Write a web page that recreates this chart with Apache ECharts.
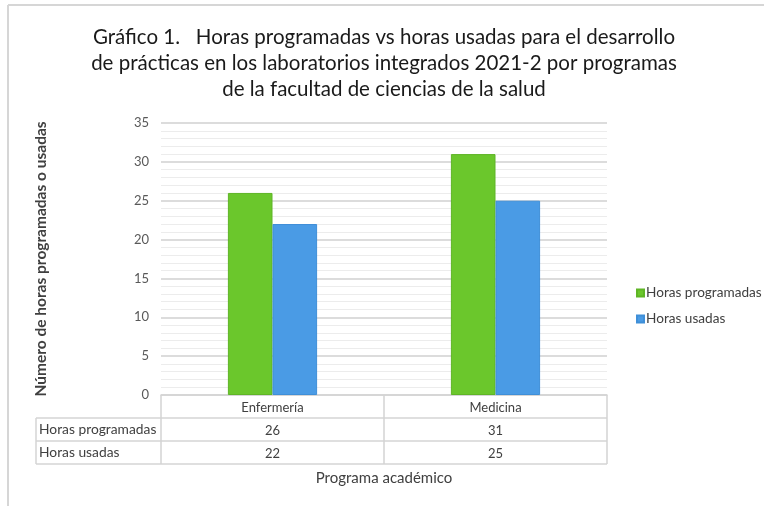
<!DOCTYPE html>
<html>
<head>
<meta charset="utf-8">
<script src="https://cdn.jsdelivr.net/npm/echarts@6/dist/echarts.min.js"></script>
<style>
  html, body { margin: 0; padding: 0; background: #fff; }
  #chart { width: 764px; height: 506px; }
</style>
</head>
<body>
<div id="chart"></div>
<script>
// Programas académicos y horas de laboratorio 2021-2
var programas = ['Enfermería', 'Medicina'];
var horasProgramadas = [26, 31];
var horasUsadas = [22, 25];
var serieNombres = ['Horas programadas', 'Horas usadas'];
var yTicks = { min: 0, max: 35, interval: 5 };
var tituloLineas = [
  'Gráfico 1.   Horas programadas vs horas usadas para el desarrollo',
  'de prácticas en los laboratorios integrados 2021-2 por programas',
  'de la facultad de ciencias de la salud'
];

var FONT = 'Lato, "Open Sans", sans-serif';
var GRID = { left: 161, right: 157, top: 123, bottom: 111 };
var ROW_H = 23;

var chart = echarts.init(document.getElementById('chart'), null, { renderer: 'canvas' });

var xLeft = GRID.left, xRight = 764 - GRID.right, yBase = 506 - GRID.bottom;
var tableLeft = 36;

var option = {
  animation: false,
  backgroundColor: '#ffffff',
  textStyle: { fontFamily: FONT },
  legend: {
    orient: 'vertical',
    left: 636,
    top: 286,
    padding: 0,
    itemWidth: 7,
    itemHeight: 7,
    itemGap: 12,
    icon: 'rect',
    data: serieNombres,
    textStyle: { fontFamily: FONT, fontSize: 13.6, color: '#404040', padding: [0, 0, 0, -3] }
  },
  grid: { left: GRID.left, right: GRID.right, top: GRID.top, bottom: GRID.bottom, containLabel: false },
  xAxis: {
    type: 'category',
    data: programas,
    axisLine: { show: true, lineStyle: { color: '#d4d4d4', width: 1.5 } },
    axisTick: { show: true, length: ROW_H * 3, lineStyle: { color: '#d4d4d4', width: 1.5 } },
    axisLabel: {
      margin: 1,
      interval: 0,
      fontFamily: FONT,
      fontSize: 13,
      color: '#404040',
      lineHeight: ROW_H,
      formatter: function (v, i) {
        return v + '\n' + horasProgramadas[i] + '\n' + horasUsadas[i];
      }
    },
    name: 'Programa académico',
    nameLocation: 'middle',
    nameGap: 76,
    nameTextStyle: { fontFamily: FONT, fontSize: 15, color: '#404040' }
  },
  yAxis: {
    type: 'value',
    min: yTicks.min,
    max: yTicks.max,
    interval: yTicks.interval,
    axisLine: { show: false },
    axisTick: { show: false },
    axisLabel: { fontFamily: FONT, fontSize: 13, color: '#595959', margin: 12 },
    splitLine: { show: true, lineStyle: { color: '#d0d0d0', width: 1.5 } },
    minorTick: { show: false, splitNumber: 5 },
    minorSplitLine: { show: true, lineStyle: { color: '#ececec', width: 1 } },
    name: 'Número de horas programadas o usadas',
    nameLocation: 'middle',
    nameGap: 112,
    nameTextStyle: { fontFamily: FONT, fontSize: 15.5, fontWeight: 'bold', color: '#404040' }
  },
  series: [
    {
      name: serieNombres[0],
      type: 'bar',
      data: horasProgramadas,
      barGap: '0%',
      barCategoryGap: '60%',
      itemStyle: { color: '#6bc72c', borderColor: '#5fb526', borderWidth: 1 }
    },
    {
      name: serieNombres[1],
      type: 'bar',
      data: horasUsadas,
      itemStyle: { color: '#4a9be5', borderColor: '#3f8fd8', borderWidth: 1 }
    }
  ],
  graphic: []
};

var g = [];
// Title, centred line by line
tituloLineas.forEach(function (t, i) {
  g.push({
    type: 'text',
    x: 384,
    y: 37 + i * 26,
    style: { text: t, fontFamily: FONT, fontSize: 20.5, fill: '#1a1a1a', align: 'center', verticalAlign: 'middle' },
    silent: true
  });
});
// Data table lines and row headers under the plot
var lineStyle = { stroke: '#d4d4d4', lineWidth: 1.5 };
for (var r = 1; r <= 3; r++) {
  g.push({ type: 'line', shape: { x1: tableLeft, y1: yBase + r * ROW_H, x2: xRight, y2: yBase + r * ROW_H }, style: lineStyle, silent: true });
}
g.push({ type: 'line', shape: { x1: tableLeft, y1: yBase + ROW_H, x2: tableLeft, y2: yBase + 3 * ROW_H }, style: lineStyle, silent: true });
serieNombres.forEach(function (n, i) {
  g.push({
    type: 'text',
    x: tableLeft + 3,
    y: yBase + (i + 1.5) * ROW_H,
    style: { text: n, fontFamily: FONT, fontSize: 13.8, fill: '#404040', verticalAlign: 'middle' },
    silent: true
  });
});
// Frame edges
g.push({ type: 'line', shape: { x1: 8, y1: 5, x2: 764, y2: 5 }, style: { stroke: '#d6d6d6', lineWidth: 2 }, silent: true });
g.push({ type: 'line', shape: { x1: 8, y1: 5, x2: 8, y2: 506 }, style: { stroke: '#d6d6d6', lineWidth: 2 }, silent: true });
option.graphic = g;

chart.setOption(option);
</script>
</body>
</html>
